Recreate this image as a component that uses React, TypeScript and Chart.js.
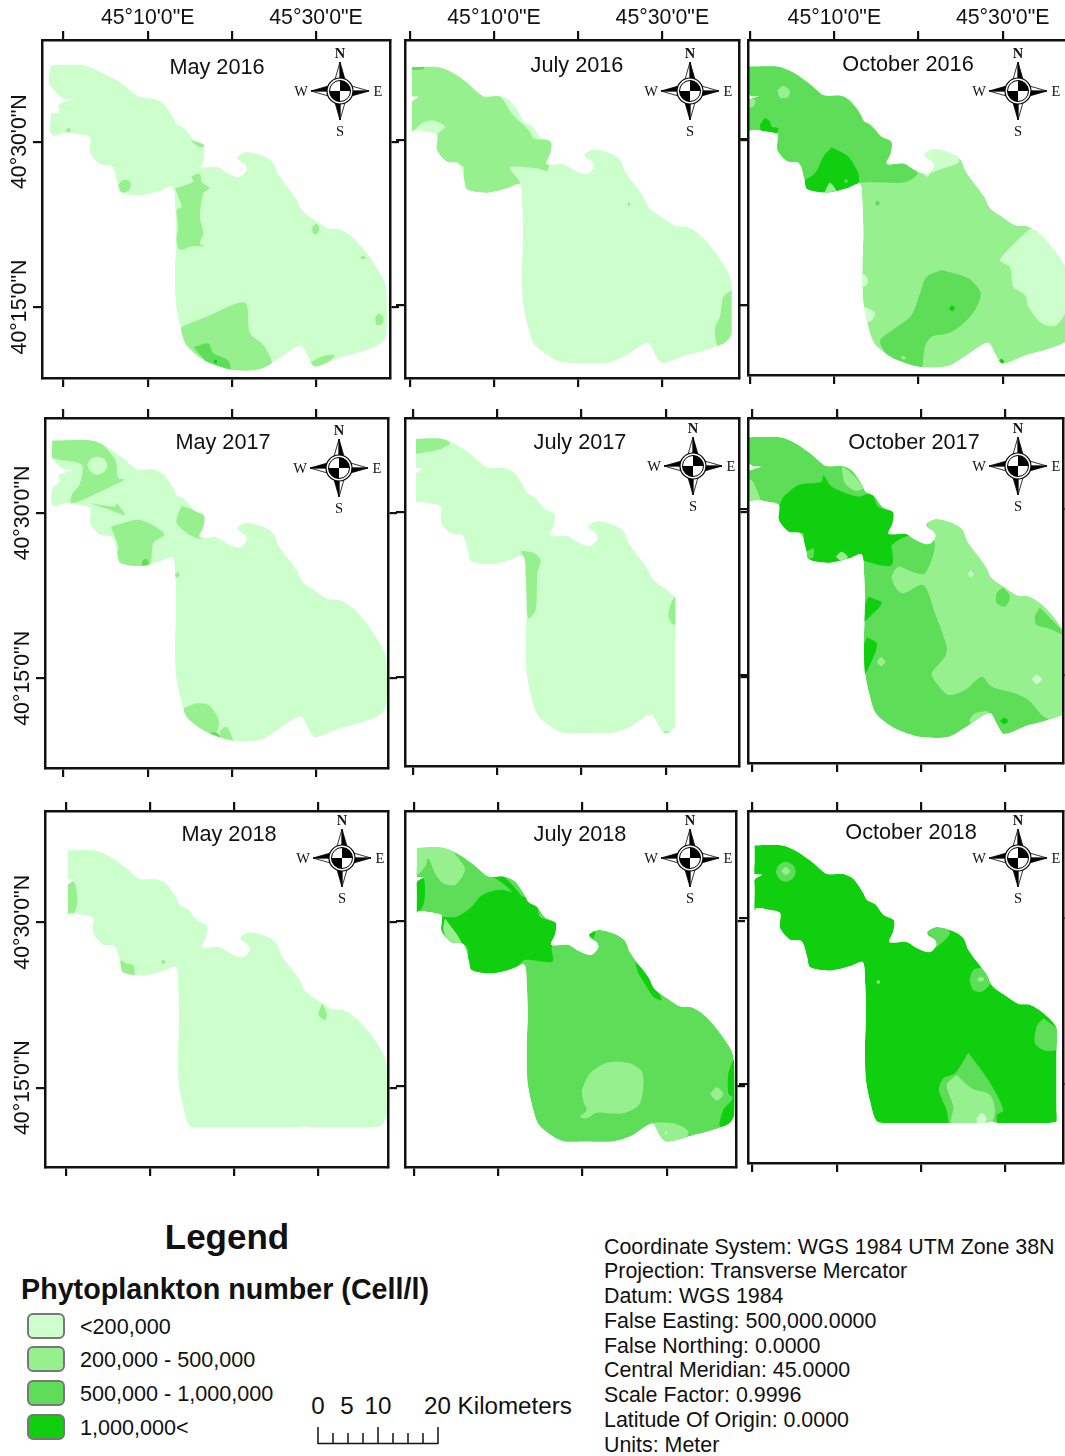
import React, { useEffect, useRef } from "react";
import { Chart, registerables } from "chart.js";

Chart.register(...registerables);

type Pt = [number, number];
type Layer = [number, Pt[]];

const FONT = "'Liberation Sans', Arial, sans-serif";
const INK = "#111111";

const classColors = ["#CCFFCC", "#97F08E", "#5EDE58", "#0FCF0F"];
const classLabels = ["<200,000", "200,000 - 500,000", "500,000 - 1,000,000", "1,000,000<"];
const lonTicks = [0, 10, 20, 30];
const latTicks = [15, 30];
const lonLabels: Record<number, string> = { 10: "45°10'0\"E", 30: "45°30'0\"E" };
const latLabels: Record<number, string> = { 15: "40°15'0\"N", 30: "40°30'0\"N" };
const projection = [
  "Coordinate System: WGS 1984 UTM Zone 38N",
  "Projection: Transverse Mercator",
  "Datum: WGS 1984",
  "False Easting: 500,000.0000",
  "False Northing: 0.0000",
  "Central Meridian: 45.0000",
  "Scale Factor: 0.9996",
  "Latitude Of Origin: 0.0000",
  "Units: Meter",
];
const scaleLabels = ["0", "5", "10", "20 Kilometers"];
const scaleKm = [0, 2.5, 5, 7.5, 10, 12.5, 15, 17.5, 20];

// Lake shoreline (sheet units; the 45°10'E / 40°30'N crossing is at 443, 339)
const shoreline: Pt[] = [
  [157, 122], [250, 120], [285, 124], [325, 143], [370, 175], [410, 207], [460, 208], [490, 222], [520, 265],
  [530, 285], [555, 298], [580, 330], [612, 347], [610, 380], [598, 412], [650, 412], [680, 430], [710, 442],
  [725, 440], [740, 420], [735, 405], [715, 392], [712, 382], [740, 368], [790, 380], [820, 400], [835, 435],
  [860, 470], [890, 510], [908, 545], [950, 575], [985, 597], [1020, 600], [1060, 625], [1100, 670], [1140, 730],
  [1158, 770], [1158, 920], [1130, 950], [1060, 975], [1020, 985], [945, 1012], [925, 985], [905, 950], [885, 955],
  [840, 985], [780, 1020], [700, 1022], [640, 1005], [600, 985], [560, 950], [540, 890], [527, 820], [525, 720],
  [528, 620], [525, 530], [518, 472], [480, 485], [420, 498], [360, 488], [352, 460], [335, 410], [300, 405],
  [270, 370], [270, 325], [235, 315], [200, 310], [157, 318], [157, 265], [178, 245], [175, 225], [215, 210],
  [190, 208], [157, 175],
];

const may2016Lobes: Pt[][] = [
  [[152, 195], [250, 195], [300, 215], [355, 243], [415, 288], [480, 303], [520, 360], [565, 415], [612, 437], [600, 500], [450, 400], [152, 260]],
  [[152, 340], [180, 340], [180, 400], [152, 400]],
];
const may2016: Layer[] = [
  [1, [[525, 565], [580, 545], [575, 530], [600, 522], [605, 545], [628, 565], [610, 580], [600, 650], [610, 700], [600, 732], [615, 738], [570, 740], [540, 750], [530, 720], [535, 680], [530, 630], [545, 620], [535, 590]]],
  [1, [[545, 980], [620, 950], [735, 908], [750, 1000], [790, 1035], [815, 1090], [770, 1110], [690, 1120], [640, 1110], [575, 1050], [540, 1010]]],
  [2, [[580, 1042], [625, 1030], [640, 1060], [685, 1082], [690, 1120], [640, 1110], [610, 1075]]],
  [3, [[642, 1080], [650, 1080], [650, 1088], [642, 1088]]],
  [1, [[935, 1085], [970, 1068], [1005, 1065], [985, 1085], [945, 1100], [925, 1090]]],
  [1, [[355, 555], [365, 542], [385, 540], [393, 555], [385, 572], [365, 577]]],
  [1, [[937, 680], [950, 672], [958, 685], [950, 703], [938, 698]]],
  [1, [[1125, 955], [1135, 942], [1150, 950], [1148, 970], [1130, 975]]],
  [1, [[1080, 772], [1090, 767], [1098, 775], [1085, 778]]],
  [1, [[198, 390], [205, 384], [212, 390], [205, 397]]],
  [1, [[570, 420], [615, 435], [600, 442]]],
];

const july2016: Layer[] = [
  [1, [[60, 195], [150, 200], [215, 235], [280, 290], [330, 290], [365, 340], [420, 395], [430, 415], [490, 425], [480, 470], [472, 512], [440, 505], [360, 503], [390, 550], [330, 585], [220, 585], [220, 500], [170, 490], [130, 440], [145, 400], [165, 380], [130, 362], [95, 370], [60, 400]]],
  [2, [[60, 198], [100, 198], [100, 208], [60, 208]]],
  [1, [[1030, 868], [1000, 890], [990, 950], [975, 985], [985, 1040], [1030, 1010]]],
  [1, [[713, 608], [720, 608], [720, 617], [713, 617]]],
];

const october2016: Layer[] = [
  [2, [[30, 190], [140, 190], [230, 240], [310, 275], [360, 320], [420, 390], [480, 425], [460, 495], [500, 485], [548, 520], [510, 547], [370, 550], [340, 585], [200, 585], [200, 500], [150, 480], [110, 440], [130, 400], [100, 380], [30, 400]]],
  [3, [[290, 442], [340, 470], [370, 520], [370, 550], [340, 585], [270, 585], [200, 565], [205, 545], [240, 520], [265, 470]]],
  [1, [[268, 578], [285, 548], [305, 578]]],
  [2, [[327, 543], [333, 537], [339, 543], [333, 549]]],
  [1, [[127, 270], [145, 258], [165, 272], [158, 292], [135, 293]]],
  [3, [[75, 375], [90, 355], [105, 365], [110, 380], [130, 385], [125, 400], [80, 400]]],
  [1, [[35, 295], [60, 300], [55, 320], [35, 320]]],
  [0, [[550, 440], [650, 440], [672, 485], [625, 505], [590, 518], [575, 530], [550, 500]]],
  [0, [[880, 690], [795, 780], [825, 800], [835, 860], [870, 885], [880, 920], [920, 970], [960, 978], [985, 950], [1010, 900], [1010, 720], [930, 670]]],
  [0, [[375, 815], [395, 830], [398, 850], [385, 860], [370, 850]]],
  [0, [[380, 915], [420, 940], [405, 965], [375, 960]]],
  [2, [[620, 810], [700, 835], [737, 880], [720, 930], [680, 975], [640, 1000], [590, 1010], [570, 1040], [555, 1115], [490, 1100], [435, 1025], [480, 985], [530, 945], [555, 880], [575, 830]]],
  [3, [[642, 925], [651, 916], [660, 925], [651, 934]]],
  [2, [[419, 610], [427, 602], [435, 610], [427, 618]]],
  [3, [[792, 1082], [800, 1076], [808, 1085], [800, 1090]]],
  [1, [[497, 1072], [505, 1067], [513, 1074], [505, 1079]]],
];

const may2017: Layer[] = [
  [1, [[150, 115], [280, 115], [345, 178], [355, 235], [375, 238], [300, 275], [215, 310], [215, 285], [238, 255], [245, 195], [150, 170]]],
  [0, [[262, 195], [272, 177], [292, 170], [313, 177], [322, 197], [313, 215], [292, 224], [272, 215]]],
  [1, [[270, 310], [345, 320], [350, 310], [375, 345], [345, 335]]],
  [1, [[333, 380], [420, 360], [493, 402], [460, 430], [450, 495], [415, 510], [350, 500], [350, 465], [355, 440]]],
  [2, [[425, 485], [435, 476], [445, 483], [443, 497], [428, 497]]],
  [1, [[545, 318], [620, 348], [610, 415], [570, 405], [530, 370], [535, 340]]],
  [1, [[524, 525], [532, 517], [540, 525], [532, 533]]],
  [1, [[552, 925], [590, 910], [625, 915], [650, 945], [657, 970], [650, 995], [625, 1000], [575, 965], [550, 945]]],
  [1, [[660, 992], [680, 980], [700, 1030], [660, 1020]]],
  [2, [[628, 998], [650, 998], [660, 1012], [640, 1012]]],
];

const july2017: Layer[] = [
  [1, [[70, 115], [160, 115], [180, 130], [150, 148], [100, 158], [70, 158]]],
  [1, [[395, 452], [430, 458], [452, 480], [442, 520], [437, 630], [415, 655], [405, 570], [395, 530]]],
  [1, [[860, 585], [845, 605], [835, 645], [845, 670], [860, 675]]],
  [1, [[815, 995], [860, 995], [860, 1005], [815, 1005]]],
];

const october2017: Layer[] = [
  [1, [[30, 240], [50, 240], [75, 295], [75, 315], [30, 315]]],
  [3, [[145, 290], [190, 255], [260, 245], [265, 225], [290, 260], [370, 290], [410, 280], [430, 320], [480, 340], [465, 400], [470, 495], [380, 480], [370, 465], [330, 490], [280, 495], [215, 490], [205, 440], [205, 400], [160, 400], [125, 370], [130, 325]]],
  [1, [[320, 200], [345, 215], [385, 265], [360, 272], [330, 250]]],
  [2, [[215, 455], [235, 445], [235, 470], [215, 478]]],
  [1, [[302, 470], [320, 455], [338, 470], [325, 487]]],
  [3, [[460, 400], [535, 400], [490, 420], [465, 437]]],
  [1, [[575, 370], [620, 350], [690, 375], [770, 520], [830, 570], [900, 590], [1010, 680], [1010, 950], [935, 955], [880, 900], [840, 880], [770, 860], [740, 830], [690, 870], [640, 885], [605, 850], [590, 820], [630, 770], [635, 740], [600, 640], [565, 555], [500, 580], [470, 535], [490, 500], [530, 515], [570, 520], [600, 435]]],
  [2, [[805, 562], [825, 590], [810, 620], [785, 610], [785, 580]]],
  [2, [[915, 622], [990, 705], [940, 685], [905, 675], [900, 650]]],
  [0, [[698, 522], [707, 513], [716, 522], [707, 531]]],
  [0, [[890, 838], [905, 824], [921, 838], [905, 852]]],
  [3, [[400, 590], [440, 608], [415, 640], [385, 665], [380, 640]]],
  [3, [[395, 712], [425, 730], [420, 760], [390, 820], [380, 760]]],
  [1, [[425, 785], [438, 772], [451, 785], [438, 798]]],
  [1, [[703, 960], [720, 940], [760, 935], [740, 960], [710, 975]]],
  [3, [[795, 963], [807, 953], [820, 963], [807, 973]]],
];

const may2018: Layer[] = [
  [1, [[200, 270], [222, 275], [232, 320], [225, 365], [200, 375]]],
  [1, [[365, 510], [375, 520], [400, 525], [402, 555], [375, 555], [355, 530]]],
  [1, [[483, 515], [490, 509], [497, 516], [490, 522]]],
  [1, [[967, 640], [980, 670], [975, 690], [955, 675]]],
];

const july2018: Layer[] = [
  [1, [[75, 165], [165, 165], [205, 205], [225, 240], [195, 285], [160, 280], [135, 250], [115, 205], [105, 230], [75, 258]]],
  [3, [[70, 265], [100, 265], [105, 310], [100, 345], [80, 375], [70, 375]]],
  [3, [[150, 380], [200, 380], [245, 350], [270, 320], [300, 305], [340, 300], [400, 320], [440, 335], [450, 380], [510, 405], [485, 470], [487, 515], [405, 510], [380, 530], [300, 560], [230, 550], [235, 480], [215, 460], [185, 470], [145, 425]]],
  [1, [[165, 385], [215, 460], [185, 470], [160, 420]]],
  [3, [[300, 255], [335, 255], [400, 325], [385, 325], [345, 285]]],
  [3, [[735, 515], [780, 560], [815, 630], [790, 620], [770, 590], [745, 550]]],
  [3, [[590, 425], [615, 420], [610, 445]]],
  [1, [[575, 900], [600, 850], [650, 818], [720, 820], [758, 850], [750, 940], [700, 970], [620, 968], [590, 985], [570, 980], [590, 960], [580, 935]]],
  [1, [[780, 998], [850, 1000], [895, 1025], [870, 1065], [815, 1065], [795, 1030]]],
  [0, [[824, 1028], [828, 1024], [832, 1028], [828, 1032]]],
  [1, [[960, 912], [980, 892], [1000, 912], [980, 932]]],
  [3, [[1030, 810], [1015, 850], [1015, 910], [1028, 925], [1000, 960], [990, 1010], [1045, 985], [1045, 810]]],
];

const october2018: Layer[] = [
  [2, [[122, 245], [132, 224], [152, 215], [173, 224], [182, 245], [173, 266], [152, 275], [132, 266]]],
  [1, [[139, 243], [152, 230], [165, 243], [152, 256]]],
  [2, [[570, 425], [600, 405], [645, 428], [597, 475], [590, 440]]],
  [2, [[703, 570], [715, 540], [740, 535], [768, 575], [740, 605], [715, 600]]],
  [1, [[725, 568], [738, 560], [748, 568], [735, 576]]],
  [2, [[925, 685], [980, 730], [980, 775], [930, 782], [900, 760], [905, 710]]],
  [2, [[700, 788], [760, 870], [805, 960], [785, 975], [785, 1010], [650, 1010], [635, 960], [612, 900], [625, 865], [660, 850]]],
  [1, [[665, 855], [710, 895], [765, 915], [780, 965], [760, 1010], [650, 1010], [655, 950], [635, 885]]],
  [0, [[725, 985], [740, 968], [755, 985], [745, 1010], [728, 1010]]],
  [1, [[424, 576], [430, 570], [436, 576], [430, 582]]],
];

const panels = [
  { title: "May 2016", frame: [42, 40, 390, 378], sheet: [0, 0, 443, 425], base: 0, shift: [0, 2], limit: [0, 9999, 9999], lobes: may2016Lobes, layers: may2016, label: [217, 67], rose: [340, 91], showLon: true, showLat: true },
  { title: "July 2016", frame: [405, 40, 739, 378], sheet: [390, 0, 312, 420], base: 0, shift: [2, -1], limit: [66, 1025, 1090], lobes: [], layers: july2016, label: [577, 65], rose: [690, 91], showLon: true, showLat: false },
  { title: "October 2016", frame: [748, 40, 1080, 375], sheet: [735, 0, 298, 418], base: 1, shift: [2, 0], limit: [0, 9999, 9999], lobes: [], layers: october2016, label: [908, 64], rose: [1018, 91], showLon: true, showLat: false },
  { title: "May 2017", frame: [45, 418, 388, 768], sheet: [0, 400, 443, 339], base: 0, shift: [0, 0], limit: [0, 9999, 9999], lobes: [], layers: may2017, label: [223, 442], rose: [339, 468], showLon: false, showLat: true },
  { title: "July 2017", frame: [405, 418, 739, 766], sheet: [390, 400, 322, 335], base: 0, shift: [3, -1], limit: [78, 857, 1000], lobes: [], layers: july2017, label: [580, 442], rose: [693, 466], showLon: false, showLat: false },
  { title: "October 2017", frame: [748, 418, 1063, 763], sheet: [735, 400, 305, 328], base: 2, shift: [0, 1], limit: [0, 9999, 9999], lobes: [], layers: october2017, label: [914, 442], rose: [1018, 466], showLon: false, showLat: false },
  { title: "May 2018", frame: [45, 811, 388, 1167], sheet: [0, 790, 450, 397], base: 0, shift: [2, 1], limit: [204, 1160, 1013], lobes: [], layers: may2018, label: [229, 834], rose: [342, 858], showLon: false, showLat: true },
  { title: "July 2018", frame: [405, 811, 736, 1167], sheet: [390, 790, 325, 392], base: 2, shift: [3, -1], limit: [80, 1033, 1055], lobes: [], layers: july2018, label: [580, 834], rose: [690, 858], showLon: false, showLat: false },
  { title: "October 2018", frame: [748, 811, 1063, 1163], sheet: [735, 790, 305, 385], base: 3, shift: [3, -2], limit: [58, 965, 1000], lobes: [], layers: october2018, label: [911, 832], rose: [1018, 858], showLon: false, showLat: false },
];

type Panel = (typeof panels)[number];

const SHEET_PER_LON = 25.25;
const SHEET_PER_LAT = 33.07;
const M = { l: 40, t: 38, r: 16, b: 16 };

// Everything inside a panel is drawn through the lake's own outline, cut at the raster's straight edges.
const makeShoreClip = (edge: { west: number; east: number; south: number }) => ({
  id: "shoreClip",
  beforeDatasetsDraw(chart: any) {
    const ctx = chart.ctx;
    ctx.save();
    const { x, y, chartArea: a } = chart.scales.x ? { x: chart.scales.x, y: chart.scales.y, chartArea: chart.chartArea } : (null as any);
    const rl = Math.max(a.left, x.getPixelForValue(edge.west));
    const rr = Math.min(a.right, x.getPixelForValue(edge.east));
    const rb = Math.min(a.bottom, y.getPixelForValue(edge.south));
    ctx.beginPath();
    ctx.rect(rl, a.top, rr - rl, rb - a.top);
    ctx.clip();
    ctx.beginPath();
    chart.data.datasets.forEach((d: any, i: number) => {
      if (!d.isShore) return;
      const pts = chart.getDatasetMeta(i).data;
      pts.forEach((p: any, k: number) => {
        if (k === 0) ctx.moveTo(p.x, p.y);
        else {
          const q = pts[k - 1];
          ctx.bezierCurveTo(q.cp2x ?? q.x, q.cp2y ?? q.y, p.cp1x ?? p.x, p.cp1y ?? p.y, p.x, p.y);
        }
      });
      ctx.closePath();
    });
    ctx.clip();
  },
  afterDatasetsDraw(chart: any) {
    chart.ctx.restore();
  },
});

function MapPanel({ panel }: { panel: Panel }) {
  const ref = useRef<HTMLCanvasElement>(null);
  const [l, t, r, b] = panel.frame;
  useEffect(() => {
    const [ox, oy, tx, ty] = panel.sheet;
    const lonOf = (gx: number) => 10 + (gx - tx) / SHEET_PER_LON;
    const latOf = (gy: number) => 30 - (gy - ty) / SHEET_PER_LAT;
    const toGeo = ([gx, gy]: Pt) => ({ x: lonOf(gx), y: latOf(gy) });
    const lonMin = 10 + (3 * (l - ox) - tx) / SHEET_PER_LON;
    const lonMax = 10 + (3 * (r - ox) - tx) / SHEET_PER_LON;
    const latMax = 30 + (ty + 3 * oy - 3 * t) / SHEET_PER_LAT;
    const latMin = 30 + (ty + 3 * oy - 3 * b) / SHEET_PER_LAT;
    const [left, right, bottom] = panel.limit;
    const shore: Pt[] = shoreline.map(([x, y]) => [
      Math.min(right, Math.max(left, x - 443 + tx + panel.shift[0])),
      Math.min(bottom, y - 339 + ty + panel.shift[1]),
    ]);
    const poly = (pts: Pt[], level: number, isShore: boolean, i: number) => ({
      data: [...pts, pts[0]].map(toGeo),
      showLine: true,
      pointRadius: 0,
      borderWidth: 0,
      borderColor: "transparent",
      backgroundColor: classColors[level],
      fill: "shape",
      tension: 0.28,
      capBezierPoints: false,
      order: -i,
      isShore,
    });
    const shores = [shore, ...panel.lobes];
    const datasets = [
      ...shores.map((p, i) => poly(p as Pt[], panel.base, true, i)),
      ...panel.layers.map(([level, p], i) => poly(p, level, false, shores.length + i)),
    ];
    const frameAxis = (ticks: number[], extra: any) => ({
      type: "linear",
      ...extra,
      afterBuildTicks: (axis: any) => {
        axis.ticks = ticks.map((value) => ({ value }));
      },
      border: { display: true, color: INK, width: 2.5, z: 1 },
      grid: { display: true, drawOnChartArea: false, drawTicks: true, tickLength: 9, color: INK, lineWidth: 2.2 },
    });
    const labelTick = (labels: Record<number, string> | null, o: any) => ({
      display: true,
      autoSkip: false,
      font: { family: FONT, size: 21.3 },
      color: INK,
      callback: (v: number) => (labels ? labels[v] ?? "" : ""),
      ...o,
    });
    const chart = new Chart(ref.current as HTMLCanvasElement, {
      type: "scatter",
      data: { datasets: datasets as any },
      plugins: [makeShoreClip({ west: lonOf(left), east: lonOf(right), south: latOf(bottom) })],
      options: {
        animation: false,
        responsive: false,
        devicePixelRatio: 1,
        layout: { padding: 0 },
        plugins: { legend: { display: false }, tooltip: { enabled: false }, title: { display: false } },
        scales: {
          x: {
            ...frameAxis(lonTicks, { position: "bottom", min: lonMin, max: lonMax }),
            ticks: labelTick(null, { maxRotation: 0, minRotation: 0 }),
            afterFit: (s: any) => { s.height = M.b; },
          },
          x2: {
            ...frameAxis(lonTicks, { position: "top", axis: "x", min: lonMin, max: lonMax }),
            ticks: labelTick(panel.showLon ? lonLabels : null, { maxRotation: 0, minRotation: 0, padding: 0 }),
            afterFit: (s: any) => { s.height = M.t; },
          },
          y: {
            ...frameAxis(latTicks, { position: "left", min: latMin, max: latMax }),
            ticks: labelTick(panel.showLat ? latLabels : null, { minRotation: 90, maxRotation: 90, crossAlign: "center", padding: -34 }),
            afterFit: (s: any) => { s.width = M.l; },
          },
          y2: {
            ...frameAxis(latTicks, { position: "right", axis: "y", min: latMin, max: latMax }),
            ticks: labelTick(null, {}),
            afterFit: (s: any) => { s.width = M.r; },
          },
        },
      } as any,
    });
    return () => chart.destroy();
  }, []);
  const w = r - l + M.l + M.r;
  const h = b - t + M.t + M.b;
  return (
    <canvas
      ref={ref}
      width={w}
      height={h}
      style={{ position: "absolute", left: l - M.l, top: t - M.t, width: w, height: h }}
    />
  );
}

function Rose({ x, y }: { x: number; y: number }) {
  const serif = { fontFamily: "'Liberation Serif', serif", fontSize: 14.5, fill: INK, textAnchor: "middle" as const };
  return (
    <svg style={{ position: "absolute", left: x - 50, top: y - 50 }} width={100} height={100} viewBox="-50 -50 100 100">
      {[0, 90, 180, 270].map((a) => (
        <g key={a} transform={`rotate(${a})`}>
          <polygon points="0,-29 -6,-8 0,-8" fill="#fff" stroke="#000" strokeWidth={0.8} />
          <polygon points="0,-29 6,-8 0,-8" fill="#000" stroke="#000" strokeWidth={0.8} />
        </g>
      ))}
      <circle r={13} fill="#fff" stroke="#000" strokeWidth={1.2} />
      <circle r={10.5} fill="#fff" stroke="#000" strokeWidth={1} />
      <path d="M0,0 L0,-10.5 A10.5,10.5 0 0 1 10.5,0 Z" fill="#000" />
      <path d="M0,0 L0,10.5 A10.5,10.5 0 0 1 -10.5,0 Z" fill="#000" />
      <text x={0} y={-33} {...serif} fontWeight="bold">N</text>
      <text x={0} y={45} {...serif}>S</text>
      <text x={-39} y={5} {...serif}>W</text>
      <text x={38} y={5} {...serif}>E</text>
    </svg>
  );
}

function Text({ x, y, size, bold, children, anchor = "center" }: any) {
  return (
    <div
      style={{
        position: "absolute",
        left: x,
        top: y,
        transform: anchor === "center" ? "translate(-50%,-50%)" : "translate(0,-50%)",
        fontFamily: FONT,
        fontSize: size,
        fontWeight: bold ? 700 : 400,
        color: INK,
        whiteSpace: "nowrap",
        lineHeight: 1,
      }}
    >
      {children}
    </div>
  );
}

const swatchTops = [1313, 1346, 1380, 1414];
const scaleLabelX = [318, 347, 378, 424];

export default function App() {
  return (
    <div style={{ position: "absolute", left: 0, top: 0, width: 1065, height: 1456, overflow: "hidden", background: "#fff" }}>
      {panels.map((p) => (
        <MapPanel key={p.title} panel={p} />
      ))}
      {panels.map((p) => (
        <React.Fragment key={p.title}>
          <Text x={p.label[0]} y={p.label[1]} size={21.7}>{p.title}</Text>
          <Rose x={p.rose[0]} y={p.rose[1]} />
        </React.Fragment>
      ))}
      <Text x={227} y={1236} size={35} bold>Legend</Text>
      <Text x={21} y={1289} size={28.7} bold anchor="left">Phytoplankton number (Cell/l)</Text>
      {classLabels.map((c, i) => (
        <React.Fragment key={c}>
          <div
            style={{
              position: "absolute",
              left: 27,
              top: swatchTops[i],
              width: 34,
              height: 22,
              background: classColors[i],
              border: "2px solid #777",
              borderRadius: 6,
            }}
          />
          <Text x={80} y={swatchTops[i] + 13.6} size={21.6} anchor="left">{c}</Text>
        </React.Fragment>
      ))}
      {scaleLabels.map((s, i) => (
        <Text key={s} x={scaleLabelX[i]} y={1406} size={24.2} anchor={i === 3 ? "left" : "center"}>{s}</Text>
      ))}
      <svg style={{ position: "absolute", left: 310, top: 1420 }} width={140} height={30}>
        <line x1={8} x2={128} y1={23.5} y2={23.5} stroke={INK} strokeWidth={1.5} />
        {scaleKm.map((k, i) => (
          <line key={k} x1={8 + k * 6} x2={8 + k * 6} y1={i % 4 === 0 ? 7 : 13} y2={24} stroke={INK} strokeWidth={1.5} />
        ))}
      </svg>
      <div style={{ position: "absolute", left: 604, top: 1234.5, fontFamily: FONT, fontSize: 21.4, lineHeight: "24.75px", color: INK, whiteSpace: "nowrap" }}>
        {projection.map((line) => (
          <div key={line}>{line}</div>
        ))}
      </div>
    </div>
  );
}
